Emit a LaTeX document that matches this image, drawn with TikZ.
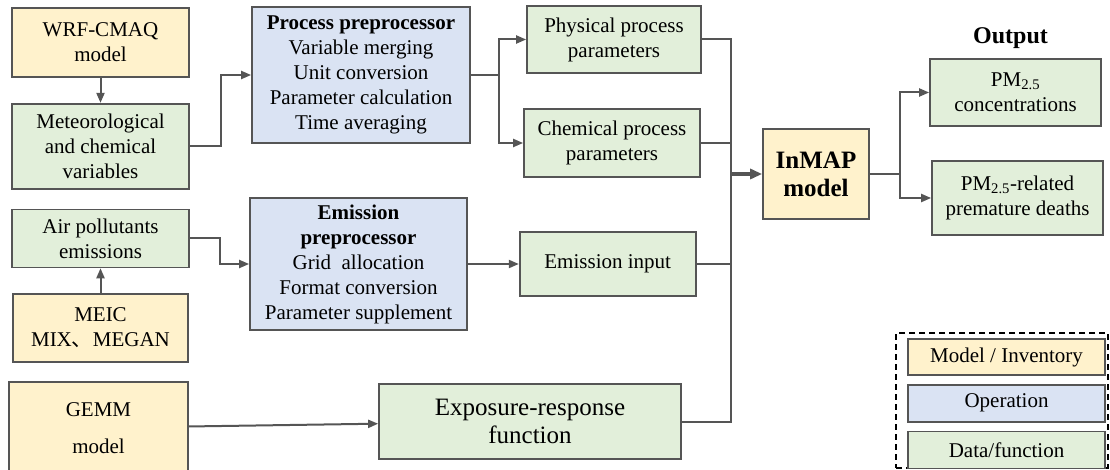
\documentclass[tikz,border=0pt]{standalone}
\usepackage{fontspec}
\setmainfont{Liberation Serif}
\newfontfamily\cjkfont{Noto Sans CJK SC}
\usepackage{xcolor}
\usepackage{tikz}
\usetikzlibrary{arrows.meta,positioning}
\definecolor{modelfill}{HTML}{FFF2CC}
\definecolor{opfill}{HTML}{DAE3F3}
\definecolor{datafill}{HTML}{E2EFDA}
\definecolor{edgegray}{HTML}{555555}

\begin{document}
\begin{tikzpicture}[
  x=1pt,y=-1pt,
  node distance=25pt and 30pt,
  box/.style={draw=edgegray,line width=1.7pt,align=center,inner sep=0pt,
              font=\fontsize{21}{25}\selectfont},
  model/.style={box,fill=modelfill},
  oper/.style={box,fill=opfill},
  datafn/.style={box,fill=datafill},
  link/.style={draw=edgegray,line width=2pt},
  flow/.style={link,-{Triangle[length=10pt,width=8pt]}},
  mainflow/.style={draw=edgegray,line width=3.5pt,-{Triangle[length=12pt,width=10pt]}}
]
\useasboundingbox (0,0) rectangle (1110,470);
\node[model,minimum width=177pt,minimum height=69pt] (wrf) at (100.5,42.5) {WRF-CMAQ\\model};
\node[datafn,minimum width=177pt,minimum height=85pt,below=25pt of wrf] (met) {Meteorological\\and chemical\\variables};
\node[datafn,minimum width=177pt,minimum height=58pt,below=19pt of met] (air) {Air pollutants\\emissions};
\node[model,minimum width=175pt,minimum height=68pt,below=25pt of air] (meic) {MEIC\\MIX{\cjkfont 、}MEGAN};
\node[model,minimum width=179pt,minimum height=92pt,below=18pt of meic,xshift=-2pt] (gemm) {GEMM\\[12pt]model};
\node[oper,minimum width=218pt,minimum height=136pt] (proc) at (361,75) {\textbf{Process preprocessor}\\Variable merging\\Unit conversion\\Parameter calculation\\Time averaging};
\node[oper,minimum width=217pt,minimum height=132pt] (emis) at (358.5,264) {\textbf{Emission}\\\textbf{preprocessor}\\Grid\ \ allocation\\Format conversion\\Parameter supplement};
\node[datafn,minimum width=174pt,minimum height=67pt] (phys) at (614,39.5) {Physical process\\parameters};
\node[datafn,minimum width=176pt,minimum height=68pt] (chem) at (612,143) {Chemical process\\parameters};
\node[datafn,minimum width=176pt,minimum height=64pt,right=51pt of emis] (einput) {Emission input};
\node[datafn,minimum width=302pt,minimum height=75pt,font=\fontsize{25}{28}\selectfont] (expo) at (530,421.5) {Exposure-response\\function};
\node[model,minimum width=106pt,minimum height=90pt,font=\bfseries\fontsize{25}{28}\selectfont] (inmap) at (816,174) {InMAP\\model};
\node[datafn,minimum width=171pt,minimum height=67pt] (conc) at (1015.5,92.5) {PM\textsubscript{2.5}\\concentrations};
\node[datafn,minimum width=171pt,minimum height=74pt] (deaths) at (1017.5,198) {PM\textsubscript{2.5}-related\\premature deaths};
\node[font=\bfseries\fontsize{24}{28}\selectfont,inner sep=0pt,above=9pt of conc,xshift=-5pt] (outlbl) {Output};
\coordinate[left=31pt of inmap.west] (bus);
\draw[flow] (wrf) -- (met);
\draw[flow] (met.east) -- ++(31,0) |- (proc.west);
\draw[flow] (proc.east) -- ++(28,0) coordinate (split) |- (phys.west);
\draw[flow] (split) |- (chem.west);
\draw[link] (phys.east) -| (bus);
\draw[link] (chem.east) -| (bus);
\draw[link] (einput.east) -| (bus);
\draw[link] (expo.east) -| (bus);
\draw[mainflow] (bus) -- (inmap.west);
\draw[flow] (inmap.east) -- ++(30,0) coordinate (fork) |- (conc.west);
\draw[flow] (fork) |- (deaths.west);
\draw[flow] (meic) -- (air);
\draw[flow] (air.east) -- ++(30,0) |- (emis.west);
\draw[flow] (emis) -- (einput);
\draw[flow] (gemm) -- (expo);
\node[draw,dashed,dash pattern=on 6pt off 4pt,line width=1.4pt,minimum width=212pt,minimum height=135pt,inner sep=0pt] (legend) at (1002,400.5) {};
\node[model,minimum width=197pt,minimum height=36pt] (legmodel) at (1006.5,357) {Model / Inventory};
\node[oper,minimum width=197pt,minimum height=37pt,below=8pt of legmodel] (legop) {Operation};
\node[datafn,minimum width=197pt,minimum height=37pt,below=8pt of legop] (legdata) {Data/function};
\end{tikzpicture}
\end{document}
